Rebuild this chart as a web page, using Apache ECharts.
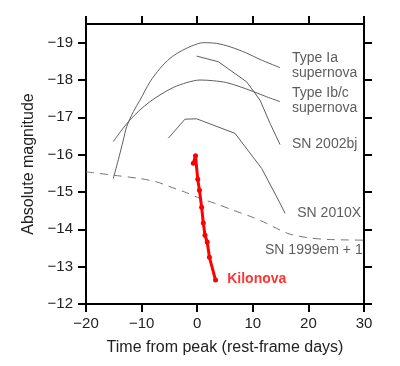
<!DOCTYPE html>
<html>
<head>
<meta charset="utf-8">
<script src="https://cdn.jsdelivr.net/npm/echarts@6/dist/echarts.min.js"></script>
<style>
html,body{margin:0;padding:0;background:#fff;}
#c{width:400px;height:366px;}
</style>
</head>
<body>
<div id="c"></div>
<script>
// Data (x = days from peak, y = absolute magnitude)
const typeIa = [[-15.1,-15.36],[-14.19,-15.86],[-13.29,-16.39],[-12.68,-16.75],[-11.49,-17.15],[-10.29,-17.46],[-8.49,-17.95],[-6.69,-18.31],[-4.89,-18.58],[-3.09,-18.76],[-0.99,-18.91],[1.1,-19.0],[3.5,-18.98],[5.9,-18.89],[8.9,-18.72],[11.3,-18.55],[14.9,-18.33]];
const typeIbc = [[-15.09,-16.35],[-13.58,-16.66],[-12.09,-16.93],[-10.29,-17.2],[-8.49,-17.42],[-6.69,-17.6],[-4.3,-17.8],[-1.89,-17.93],[0.5,-18.0],[2.9,-17.98],[5.3,-17.93],[7.7,-17.82],[10.1,-17.69],[12.5,-17.55],[14.9,-17.42]];
const sn2002bj = [[-0.1,-18.64],[3.8,-18.49],[8.9,-17.95],[11.3,-17.46],[13.1,-16.84],[14.9,-16.27]];
const sn2010X = [[-5.2,-16.44],[-2.2,-16.95],[-0.1,-16.96],[6.8,-16.57],[11.6,-15.63],[14.9,-14.7],[15.8,-14.43]];
const sn1999em = [[-20,-15.54],[-15.09,-15.45],[-10.29,-15.36],[-7.28,-15.27],[-4.89,-15.14],[-1.89,-14.98],[0.5,-14.83],[3.5,-14.68],[6.5,-14.51],[9.5,-14.35],[12.5,-14.16],[14.9,-13.98],[16.7,-13.87],[19.7,-13.78],[23.3,-13.73],[29.9,-13.71]];
const kilonova = [[-0.7,-15.77],[-0.3,-15.97],[0.1,-15.34],[0.4,-15.05],[0.8,-14.59],[1.1,-14.17],[1.4,-13.84],[1.8,-13.66],[2.2,-13.25],[3.3,-12.64]];
const labelTexts = ['Type Ia\nsupernova','Type Ib/c\nsupernova','SN 2002bj','SN 2010X','SN 1999em + 1'];
const labelPos = [[17.05,-18.38],[17.05,-17.45],[17.05,-16.28],[18.0,-14.43],[12.2,-13.44]];
const kilonovaLabel = 'Kilonova';
const kilonovaLabelPos = [5.4,-12.66];
const xTicks = [-20,-10,0,10,20,30];
const yTicks = [-19,-18,-17,-16,-15,-14,-13,-12];

const fmt = v => (v < 0 ? '\u2212' : '') + Math.abs(v);
const FONT = 'Liberation Sans, Arial, sans-serif';
const axisLine = {show:true, onZero:false, lineStyle:{color:'#000', width:2}};
const tickBase = {show:true, length:8, lineStyle:{color:'#000', width:2}};
const xTick = Object.assign({}, tickBase, {customValues:xTicks});
const yTick = Object.assign({}, tickBase, {customValues:yTicks});

const greyLine = (name, data, smooth) => ({
  name, type:'line', data, smooth: smooth ? 0.3 : false,
  symbol:'none', lineStyle:{color:'#5f5f5f', width:1}, silent:true, z:2
});

const chart = echarts.init(document.getElementById('c'), null, {renderer:'canvas'});
chart.setOption({
  animation:false,
  backgroundColor:'#fff',
  grid:{left:86, right:36, top:24, bottom:62},
  xAxis:[{
    type:'value', min:-20, max:30, interval:10, position:'bottom',
    axisLine, axisTick:xTick, splitLine:{show:false},
    axisLabel:{color:'#222', fontSize:15, fontFamily:FONT, margin:12, formatter:fmt, customValues:xTicks},
    name:'Time from peak (rest-frame days)', nameLocation:'middle', nameGap:36,
    nameTextStyle:{color:'#222', fontSize:16, fontFamily:FONT}
  },{
    type:'value', min:-20, max:30, interval:10, position:'top',
    axisLine, axisTick:xTick, axisLabel:{show:false}, splitLine:{show:false}
  }],
  yAxis:[{
    type:'value', inverse:true, min:-19.5, max:-12, interval:0.5, position:'left',
    axisLine, axisTick:yTick, splitLine:{show:false},
    axisLabel:{color:'#222', fontSize:15, fontFamily:FONT, margin:13, formatter:fmt, customValues:yTicks},
    name:'Absolute magnitude', nameLocation:'middle', nameGap:47,
    nameTextStyle:{color:'#222', fontSize:16, fontFamily:FONT}
  },{
    type:'value', inverse:true, min:-19.5, max:-12, interval:0.5, position:'right',
    axisLine, axisTick:yTick, axisLabel:{show:false}, splitLine:{show:false}
  }],
  series:[
    greyLine('Type Ia', typeIa, true),
    greyLine('Type Ib/c', typeIbc, true),
    greyLine('SN 2002bj', sn2002bj, false),
    greyLine('SN 2010X', sn2010X, false),
    {name:'SN 1999em + 1', type:'line', data:sn1999em, smooth:0.3, symbol:'none',
     lineStyle:{color:'#777', width:1, type:[8,6]}, silent:true, z:2},
    {name:'Kilonova', type:'line', data:kilonova, symbol:'circle', symbolSize:5,
     itemStyle:{color:'#ff0000'}, lineStyle:{color:'#ff0000', width:3}, z:5},
    {type:'scatter', symbolSize:0, silent:true, z:6,
     data: labelPos.map((p,i)=>({value:p, label:{formatter:labelTexts[i]}})),
     label:{show:true, position:'right', distance:0, color:'#333', fontSize:14, lineHeight:15, fontFamily:FONT}},
    {type:'scatter', symbolSize:0, silent:true, z:6,
     data:[{value:kilonovaLabelPos, label:{formatter:kilonovaLabel}}],
     label:{show:true, position:'right', distance:0, color:'#ff0000', fontSize:14, fontWeight:'bold', fontFamily:FONT}}
  ]
});
</script>
</body>
</html>
